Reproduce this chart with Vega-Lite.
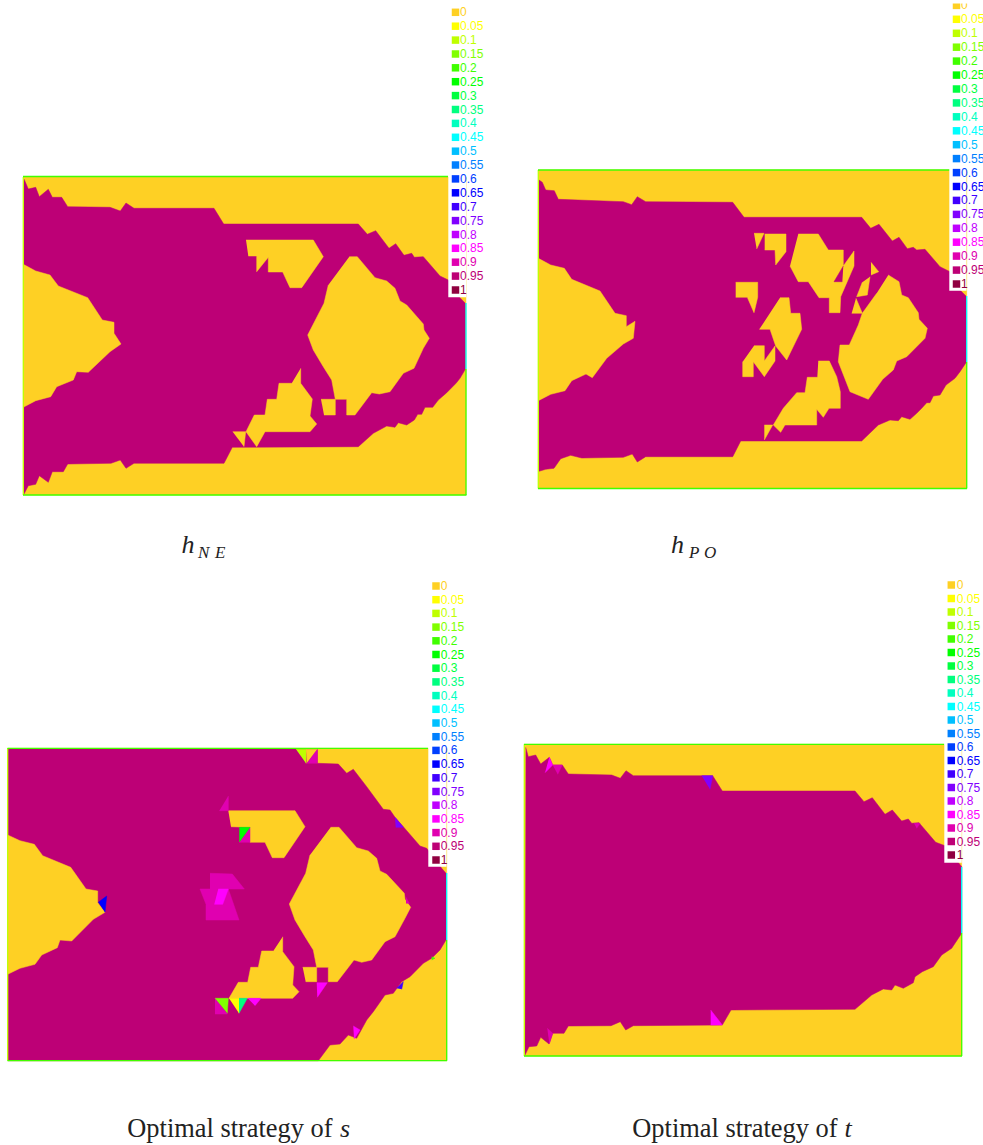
{"$schema":"https://vega.github.io/schema/vega-lite/v6.json","width":983,"height":1145,"padding":0,"autosize":"none","background":"white","view":{"stroke":null},
"datasets":{
"mesh":[
{"shape":"ne-bg","i":0,"x":23.3,"y":177,"value":0},{"shape":"ne-bg","i":1,"x":466,"y":177,"value":0},{"shape":"ne-bg","i":2,"x":466,"y":495,"value":0},{"shape":"ne-bg","i":3,"x":23.3,"y":495,"value":0},
{"shape":"ne-main","i":0,"x":24,"y":179,"value":0.95},{"shape":"ne-main","i":1,"x":28.3,"y":189,"value":0.95},{"shape":"ne-main","i":2,"x":35.7,"y":187.3,"value":0.95},{"shape":"ne-main","i":3,"x":39.3,"y":196.7,"value":0.95},{"shape":"ne-main","i":4,"x":48.3,"y":189.3,"value":0.95},{"shape":"ne-main","i":5,"x":52.3,"y":197.3,"value":0.95},{"shape":"ne-main","i":6,"x":61.7,"y":197.3,"value":0.95},{"shape":"ne-main","i":7,"x":67.7,"y":206.7,"value":0.95},{"shape":"ne-main","i":8,"x":110,"y":207.3,"value":0.95},{"shape":"ne-main","i":9,"x":120.3,"y":211,"value":0.95},{"shape":"ne-main","i":10,"x":126,"y":203,"value":0.95},{"shape":"ne-main","i":11,"x":134,"y":208.3,"value":0.95},{"shape":"ne-main","i":12,"x":214,"y":208.3,"value":0.95},{"shape":"ne-main","i":13,"x":223.7,"y":224,"value":0.95},{"shape":"ne-main","i":14,"x":358.3,"y":224,"value":0.95},{"shape":"ne-main","i":15,"x":367.3,"y":234.3,"value":0.95},{"shape":"ne-main","i":16,"x":375.7,"y":230.7,"value":0.95},{"shape":"ne-main","i":17,"x":389,"y":248.3,"value":0.95},{"shape":"ne-main","i":18,"x":395.7,"y":243.7,"value":0.95},{"shape":"ne-main","i":19,"x":404,"y":255.3,"value":0.95},{"shape":"ne-main","i":20,"x":411.7,"y":253.3,"value":0.95},{"shape":"ne-main","i":21,"x":414.3,"y":257.3,"value":0.95},{"shape":"ne-main","i":22,"x":423.3,"y":256.7,"value":0.95},{"shape":"ne-main","i":23,"x":440,"y":276,"value":0.95},{"shape":"ne-main","i":24,"x":448.3,"y":280,"value":0.95},{"shape":"ne-main","i":25,"x":460,"y":297.7,"value":0.95},{"shape":"ne-main","i":26,"x":465.3,"y":303.3,"value":0.95},{"shape":"ne-main","i":27,"x":465.3,"y":369.3,"value":0.95},{"shape":"ne-main","i":28,"x":460,"y":378.3,"value":0.95},{"shape":"ne-main","i":29,"x":456,"y":383.3,"value":0.95},{"shape":"ne-main","i":30,"x":446.7,"y":392.7,"value":0.95},{"shape":"ne-main","i":31,"x":438.3,"y":400,"value":0.95},{"shape":"ne-main","i":32,"x":432.7,"y":407.3,"value":0.95},{"shape":"ne-main","i":33,"x":425,"y":407.3,"value":0.95},{"shape":"ne-main","i":34,"x":421.7,"y":414.3,"value":0.95},{"shape":"ne-main","i":35,"x":417.7,"y":414.3,"value":0.95},{"shape":"ne-main","i":36,"x":414.3,"y":420,"value":0.95},{"shape":"ne-main","i":37,"x":406.7,"y":425,"value":0.95},{"shape":"ne-main","i":38,"x":398.3,"y":422.7,"value":0.95},{"shape":"ne-main","i":39,"x":395,"y":427.3,"value":0.95},{"shape":"ne-main","i":40,"x":386.7,"y":426,"value":0.95},{"shape":"ne-main","i":41,"x":373.3,"y":433.3,"value":0.95},{"shape":"ne-main","i":42,"x":358.3,"y":446.7,"value":0.95},{"shape":"ne-main","i":43,"x":232.3,"y":447.3,"value":0.95},{"shape":"ne-main","i":44,"x":224,"y":463.3,"value":0.95},{"shape":"ne-main","i":45,"x":134,"y":463.3,"value":0.95},{"shape":"ne-main","i":46,"x":126,"y":468.3,"value":0.95},{"shape":"ne-main","i":47,"x":120.3,"y":460,"value":0.95},{"shape":"ne-main","i":48,"x":111,"y":463.3,"value":0.95},{"shape":"ne-main","i":49,"x":67.7,"y":464,"value":0.95},{"shape":"ne-main","i":50,"x":63.3,"y":471.7,"value":0.95},{"shape":"ne-main","i":51,"x":52.3,"y":471.7,"value":0.95},{"shape":"ne-main","i":52,"x":48.3,"y":482.3,"value":0.95},{"shape":"ne-main","i":53,"x":39.3,"y":475.7,"value":0.95},{"shape":"ne-main","i":54,"x":35.7,"y":484.3,"value":0.95},{"shape":"ne-main","i":55,"x":28.3,"y":485.7,"value":0.95},{"shape":"ne-main","i":56,"x":24,"y":494,"value":0.95},
{"shape":"ne-lobe","i":0,"x":23.3,"y":264.3,"value":0},{"shape":"ne-lobe","i":1,"x":35.7,"y":271,"value":0},{"shape":"ne-lobe","i":2,"x":50,"y":275,"value":0},{"shape":"ne-lobe","i":3,"x":58.3,"y":286,"value":0},{"shape":"ne-lobe","i":4,"x":87.7,"y":297.7,"value":0},{"shape":"ne-lobe","i":5,"x":102.3,"y":320,"value":0},{"shape":"ne-lobe","i":6,"x":114,"y":322.3,"value":0},{"shape":"ne-lobe","i":7,"x":114,"y":333.3,"value":0},{"shape":"ne-lobe","i":8,"x":121,"y":344,"value":0},{"shape":"ne-lobe","i":9,"x":110,"y":351.7,"value":0},{"shape":"ne-lobe","i":10,"x":88.3,"y":372.3,"value":0},{"shape":"ne-lobe","i":11,"x":76.7,"y":371.7,"value":0},{"shape":"ne-lobe","i":12,"x":73.3,"y":380,"value":0},{"shape":"ne-lobe","i":13,"x":56.7,"y":386.7,"value":0},{"shape":"ne-lobe","i":14,"x":50.7,"y":396.7,"value":0},{"shape":"ne-lobe","i":15,"x":35.7,"y":400.7,"value":0},{"shape":"ne-lobe","i":16,"x":23.3,"y":407.3,"value":0},
{"shape":"ne-a","i":0,"x":246,"y":240,"value":0},{"shape":"ne-a","i":1,"x":313.3,"y":240,"value":0},{"shape":"ne-a","i":2,"x":323.3,"y":256.7,"value":0},{"shape":"ne-a","i":3,"x":301.7,"y":287.7,"value":0},{"shape":"ne-a","i":4,"x":290,"y":287.7,"value":0},{"shape":"ne-a","i":5,"x":282.7,"y":272,"value":0},{"shape":"ne-a","i":6,"x":268.3,"y":272,"value":0},{"shape":"ne-a","i":7,"x":268.3,"y":257.3,"value":0},{"shape":"ne-a","i":8,"x":256.7,"y":271.7,"value":0},{"shape":"ne-a","i":9,"x":256.7,"y":256,"value":0},{"shape":"ne-a","i":10,"x":248.3,"y":256,"value":0},
{"shape":"ne-b","i":0,"x":349.3,"y":256.7,"value":0},{"shape":"ne-b","i":1,"x":357.3,"y":256.7,"value":0},{"shape":"ne-b","i":2,"x":375,"y":277.7,"value":0},{"shape":"ne-b","i":3,"x":386.7,"y":281,"value":0},{"shape":"ne-b","i":4,"x":395,"y":288.3,"value":0},{"shape":"ne-b","i":5,"x":400,"y":301,"value":0},{"shape":"ne-b","i":6,"x":406.7,"y":305,"value":0},{"shape":"ne-b","i":7,"x":423.3,"y":324,"value":0},{"shape":"ne-b","i":8,"x":424,"y":330,"value":0},{"shape":"ne-b","i":9,"x":429.3,"y":338.3,"value":0},{"shape":"ne-b","i":10,"x":423.3,"y":348.3,"value":0},{"shape":"ne-b","i":11,"x":414,"y":368.3,"value":0},{"shape":"ne-b","i":12,"x":403.3,"y":373.3,"value":0},{"shape":"ne-b","i":13,"x":390,"y":391.7,"value":0},{"shape":"ne-b","i":14,"x":379.3,"y":394,"value":0},{"shape":"ne-b","i":15,"x":371.7,"y":392.7,"value":0},{"shape":"ne-b","i":16,"x":355,"y":415,"value":0},{"shape":"ne-b","i":17,"x":346.7,"y":415,"value":0},{"shape":"ne-b","i":18,"x":346.7,"y":399.3,"value":0},{"shape":"ne-b","i":19,"x":335.3,"y":399.3,"value":0},{"shape":"ne-b","i":20,"x":331.7,"y":380,"value":0},{"shape":"ne-b","i":21,"x":323.3,"y":366.7,"value":0},{"shape":"ne-b","i":22,"x":313.3,"y":350,"value":0},{"shape":"ne-b","i":23,"x":307.7,"y":335,"value":0},{"shape":"ne-b","i":24,"x":324,"y":303.3,"value":0},{"shape":"ne-b","i":25,"x":328.3,"y":285,"value":0},
{"shape":"ne-c","i":0,"x":321,"y":399.3,"value":0},{"shape":"ne-c","i":1,"x":335.3,"y":399.3,"value":0},{"shape":"ne-c","i":2,"x":335.3,"y":415,"value":0},{"shape":"ne-c","i":3,"x":324,"y":415,"value":0},
{"shape":"ne-d","i":0,"x":300.7,"y":368.3,"value":0},{"shape":"ne-d","i":1,"x":300.7,"y":383.3,"value":0},{"shape":"ne-d","i":2,"x":312.3,"y":399,"value":0},{"shape":"ne-d","i":3,"x":310,"y":416,"value":0},{"shape":"ne-d","i":4,"x":316.7,"y":424,"value":0},{"shape":"ne-d","i":5,"x":310,"y":431.7,"value":0},{"shape":"ne-d","i":6,"x":265,"y":431.7,"value":0},{"shape":"ne-d","i":7,"x":256.7,"y":446.7,"value":0},{"shape":"ne-d","i":8,"x":246,"y":431.7,"value":0},{"shape":"ne-d","i":9,"x":254.3,"y":415,"value":0},{"shape":"ne-d","i":10,"x":265,"y":415,"value":0},{"shape":"ne-d","i":11,"x":267.3,"y":399.3,"value":0},{"shape":"ne-d","i":12,"x":276.7,"y":399.3,"value":0},{"shape":"ne-d","i":13,"x":279,"y":383.3,"value":0},{"shape":"ne-d","i":14,"x":291.7,"y":383.3,"value":0},
{"shape":"ne-e","i":0,"x":232.7,"y":431.7,"value":0},{"shape":"ne-e","i":1,"x":245.7,"y":431.7,"value":0},{"shape":"ne-e","i":2,"x":244,"y":446.7,"value":0},

{"shape":"po-bg","i":0,"x":538.3,"y":170,"value":0},{"shape":"po-bg","i":1,"x":966.7,"y":170,"value":0},{"shape":"po-bg","i":2,"x":966.7,"y":488.3,"value":0},{"shape":"po-bg","i":3,"x":538.3,"y":488.3,"value":0},
{"shape":"po-main","i":0,"x":539,"y":180,"value":0.95},{"shape":"po-main","i":1,"x":542.3,"y":182.3,"value":0.95},{"shape":"po-main","i":2,"x":545.7,"y":190,"value":0.95},{"shape":"po-main","i":3,"x":554.3,"y":190.7,"value":0.95},{"shape":"po-main","i":4,"x":558.3,"y":199.3,"value":0.95},{"shape":"po-main","i":5,"x":623.3,"y":201.7,"value":0.95},{"shape":"po-main","i":6,"x":631.7,"y":204.7,"value":0.95},{"shape":"po-main","i":7,"x":637.3,"y":196.7,"value":0.95},{"shape":"po-main","i":8,"x":645.7,"y":201.7,"value":0.95},{"shape":"po-main","i":9,"x":732.7,"y":202.3,"value":0.95},{"shape":"po-main","i":10,"x":744,"y":217.3,"value":0.95},{"shape":"po-main","i":11,"x":861.7,"y":217.3,"value":0.95},{"shape":"po-main","i":12,"x":870.7,"y":228.3,"value":0.95},{"shape":"po-main","i":13,"x":879,"y":224.3,"value":0.95},{"shape":"po-main","i":14,"x":892.3,"y":241,"value":0.95},{"shape":"po-main","i":15,"x":899,"y":237.3,"value":0.95},{"shape":"po-main","i":16,"x":907.3,"y":248.7,"value":0.95},{"shape":"po-main","i":17,"x":913.3,"y":247.3,"value":0.95},{"shape":"po-main","i":18,"x":916.7,"y":250,"value":0.95},{"shape":"po-main","i":19,"x":925,"y":249.3,"value":0.95},{"shape":"po-main","i":20,"x":940,"y":266.7,"value":0.95},{"shape":"po-main","i":21,"x":950,"y":271.7,"value":0.95},{"shape":"po-main","i":22,"x":960,"y":290,"value":0.95},{"shape":"po-main","i":23,"x":966,"y":296,"value":0.95},{"shape":"po-main","i":24,"x":966,"y":362.7,"value":0.95},{"shape":"po-main","i":25,"x":960,"y":371.7,"value":0.95},{"shape":"po-main","i":26,"x":955,"y":378.3,"value":0.95},{"shape":"po-main","i":27,"x":946,"y":385,"value":0.95},{"shape":"po-main","i":28,"x":940,"y":395,"value":0.95},{"shape":"po-main","i":29,"x":933.3,"y":396,"value":0.95},{"shape":"po-main","i":30,"x":930,"y":402.7,"value":0.95},{"shape":"po-main","i":31,"x":926.7,"y":402.7,"value":0.95},{"shape":"po-main","i":32,"x":921.7,"y":408.3,"value":0.95},{"shape":"po-main","i":33,"x":916.7,"y":413.3,"value":0.95},{"shape":"po-main","i":34,"x":910,"y":419.3,"value":0.95},{"shape":"po-main","i":35,"x":901.7,"y":416.7,"value":0.95},{"shape":"po-main","i":36,"x":898.3,"y":420.7,"value":0.95},{"shape":"po-main","i":37,"x":890,"y":420,"value":0.95},{"shape":"po-main","i":38,"x":878.3,"y":425,"value":0.95},{"shape":"po-main","i":39,"x":861.7,"y":441,"value":0.95},{"shape":"po-main","i":40,"x":740.7,"y":441,"value":0.95},{"shape":"po-main","i":41,"x":732.7,"y":456.7,"value":0.95},{"shape":"po-main","i":42,"x":645.7,"y":456.7,"value":0.95},{"shape":"po-main","i":43,"x":637.3,"y":462,"value":0.95},{"shape":"po-main","i":44,"x":632.3,"y":454,"value":0.95},{"shape":"po-main","i":45,"x":623.3,"y":457.3,"value":0.95},{"shape":"po-main","i":46,"x":581.7,"y":458,"value":0.95},{"shape":"po-main","i":47,"x":570.7,"y":455.3,"value":0.95},{"shape":"po-main","i":48,"x":560.7,"y":458.7,"value":0.95},{"shape":"po-main","i":49,"x":554,"y":468.3,"value":0.95},{"shape":"po-main","i":50,"x":545.7,"y":469.3,"value":0.95},{"shape":"po-main","i":51,"x":539,"y":471.3,"value":0.95},
{"shape":"po-lobe","i":0,"x":538.3,"y":258.3,"value":0},{"shape":"po-lobe","i":1,"x":550.7,"y":265,"value":0},{"shape":"po-lobe","i":2,"x":564.3,"y":268.3,"value":0},{"shape":"po-lobe","i":3,"x":571.7,"y":279.3,"value":0},{"shape":"po-lobe","i":4,"x":600,"y":291,"value":0},{"shape":"po-lobe","i":5,"x":615,"y":313.3,"value":0},{"shape":"po-lobe","i":6,"x":626.3,"y":315.7,"value":0},{"shape":"po-lobe","i":7,"x":626.3,"y":326.7,"value":0},{"shape":"po-lobe","i":8,"x":635,"y":321.3,"value":0},{"shape":"po-lobe","i":9,"x":633.3,"y":338.3,"value":0},{"shape":"po-lobe","i":10,"x":623.3,"y":344,"value":0},{"shape":"po-lobe","i":11,"x":606.7,"y":358.3,"value":0},{"shape":"po-lobe","i":12,"x":592.3,"y":377.7,"value":0},{"shape":"po-lobe","i":13,"x":586,"y":374,"value":0},{"shape":"po-lobe","i":14,"x":571.7,"y":380.7,"value":0},{"shape":"po-lobe","i":15,"x":565,"y":390.7,"value":0},{"shape":"po-lobe","i":16,"x":550.7,"y":394.3,"value":0},{"shape":"po-lobe","i":17,"x":538.3,"y":400.7,"value":0},
{"shape":"po-h1","i":0,"x":754,"y":233.3,"value":0},{"shape":"po-h1","i":1,"x":764,"y":233.3,"value":0},{"shape":"po-h1","i":2,"x":756.7,"y":249,"value":0},
{"shape":"po-h2","i":0,"x":764.7,"y":234,"value":0},{"shape":"po-h2","i":1,"x":786,"y":234,"value":0},{"shape":"po-h2","i":2,"x":786,"y":251.7,"value":0},{"shape":"po-h2","i":3,"x":775.7,"y":265,"value":0},{"shape":"po-h2","i":4,"x":775,"y":250,"value":0},{"shape":"po-h2","i":5,"x":764.7,"y":250,"value":0},
{"shape":"po-h3","i":0,"x":798.3,"y":234,"value":0},{"shape":"po-h3","i":1,"x":818.3,"y":234,"value":0},{"shape":"po-h3","i":2,"x":828.3,"y":250,"value":0},{"shape":"po-h3","i":3,"x":843.3,"y":250,"value":0},{"shape":"po-h3","i":4,"x":843.3,"y":266,"value":0},{"shape":"po-h3","i":5,"x":854,"y":251,"value":0},{"shape":"po-h3","i":6,"x":854,"y":266,"value":0},{"shape":"po-h3","i":7,"x":840.7,"y":296.7,"value":0},{"shape":"po-h3","i":8,"x":840,"y":312.7,"value":0},{"shape":"po-h3","i":9,"x":829.3,"y":312.7,"value":0},{"shape":"po-h3","i":10,"x":829.3,"y":297.7,"value":0},{"shape":"po-h3","i":11,"x":819,"y":297.7,"value":0},{"shape":"po-h3","i":12,"x":808.3,"y":281.7,"value":0},{"shape":"po-h3","i":13,"x":798.3,"y":281.7,"value":0},{"shape":"po-h3","i":14,"x":790,"y":266,"value":0},
{"shape":"po-h3m","i":0,"x":843.3,"y":266,"value":0.95},{"shape":"po-h3m","i":1,"x":834,"y":281.7,"value":0.95},{"shape":"po-h3m","i":2,"x":842.3,"y":281.7,"value":0.95},
{"shape":"po-h4","i":0,"x":871,"y":262.3,"value":0},{"shape":"po-h4","i":1,"x":878.7,"y":271.7,"value":0},{"shape":"po-h4","i":2,"x":871,"y":275,"value":0},
{"shape":"po-h5","i":0,"x":870,"y":276.7,"value":0},{"shape":"po-h5","i":1,"x":867.3,"y":295,"value":0},{"shape":"po-h5","i":2,"x":856.7,"y":296.7,"value":0},{"shape":"po-h5","i":3,"x":862.3,"y":282.3,"value":0},
{"shape":"po-h6","i":0,"x":856,"y":298.3,"value":0},{"shape":"po-h6","i":1,"x":862.3,"y":313.3,"value":0},{"shape":"po-h6","i":2,"x":851.7,"y":313.3,"value":0},
{"shape":"po-h7","i":0,"x":888.3,"y":275,"value":0},{"shape":"po-h7","i":1,"x":899,"y":281.7,"value":0},{"shape":"po-h7","i":2,"x":901.7,"y":295,"value":0},{"shape":"po-h7","i":3,"x":908.3,"y":297.7,"value":0},{"shape":"po-h7","i":4,"x":918.3,"y":312.7,"value":0},{"shape":"po-h7","i":5,"x":919,"y":319.3,"value":0},{"shape":"po-h7","i":6,"x":927.3,"y":328.3,"value":0},{"shape":"po-h7","i":7,"x":925,"y":338.3,"value":0},{"shape":"po-h7","i":8,"x":906.7,"y":356.7,"value":0},{"shape":"po-h7","i":9,"x":896.7,"y":361,"value":0},{"shape":"po-h7","i":10,"x":893.3,"y":370,"value":0},{"shape":"po-h7","i":11,"x":882.7,"y":379.3,"value":0},{"shape":"po-h7","i":12,"x":868.3,"y":399.3,"value":0},{"shape":"po-h7","i":13,"x":850,"y":391.7,"value":0},{"shape":"po-h7","i":14,"x":838.3,"y":361.7,"value":0},{"shape":"po-h7","i":15,"x":840,"y":345,"value":0},{"shape":"po-h7","i":16,"x":849.3,"y":345,"value":0},{"shape":"po-h7","i":17,"x":858.3,"y":325,"value":0},{"shape":"po-h7","i":18,"x":862.3,"y":313.3,"value":0},{"shape":"po-h7","i":19,"x":876.7,"y":293.3,"value":0},
{"shape":"po-h8","i":0,"x":818.3,"y":361,"value":0},{"shape":"po-h8","i":1,"x":829.3,"y":361,"value":0},{"shape":"po-h8","i":2,"x":836.7,"y":376.7,"value":0},{"shape":"po-h8","i":3,"x":840.3,"y":391.7,"value":0},{"shape":"po-h8","i":4,"x":840.3,"y":408.3,"value":0},{"shape":"po-h8","i":5,"x":829,"y":408.3,"value":0},{"shape":"po-h8","i":6,"x":823.3,"y":417.3,"value":0},{"shape":"po-h8","i":7,"x":816.7,"y":409.3,"value":0},{"shape":"po-h8","i":8,"x":816.7,"y":425,"value":0},{"shape":"po-h8","i":9,"x":785,"y":425,"value":0},{"shape":"po-h8","i":10,"x":780.7,"y":432.3,"value":0},{"shape":"po-h8","i":11,"x":773.3,"y":425,"value":0},{"shape":"po-h8","i":12,"x":783.3,"y":408.3,"value":0},{"shape":"po-h8","i":13,"x":796.7,"y":392.7,"value":0},{"shape":"po-h8","i":14,"x":805,"y":392.7,"value":0},{"shape":"po-h8","i":15,"x":807.3,"y":377.3,"value":0},{"shape":"po-h8","i":16,"x":817.3,"y":377.3,"value":0},
{"shape":"po-h9","i":0,"x":764.3,"y":425,"value":0},{"shape":"po-h9","i":1,"x":772.7,"y":425,"value":0},{"shape":"po-h9","i":2,"x":764.3,"y":440,"value":0},
{"shape":"po-h10","i":0,"x":735.7,"y":282.3,"value":0},{"shape":"po-h10","i":1,"x":757.7,"y":282.3,"value":0},{"shape":"po-h10","i":2,"x":757.7,"y":297.3,"value":0},{"shape":"po-h10","i":3,"x":754,"y":312.7,"value":0},{"shape":"po-h10","i":4,"x":747.3,"y":297.3,"value":0},{"shape":"po-h10","i":5,"x":735.7,"y":297.3,"value":0},
{"shape":"po-h11","i":0,"x":780,"y":297.7,"value":0},{"shape":"po-h11","i":1,"x":789,"y":297.7,"value":0},{"shape":"po-h11","i":2,"x":790.7,"y":313.3,"value":0},{"shape":"po-h11","i":3,"x":800,"y":313.3,"value":0},{"shape":"po-h11","i":4,"x":801.7,"y":329.3,"value":0},{"shape":"po-h11","i":5,"x":786.7,"y":360,"value":0},{"shape":"po-h11","i":6,"x":775.7,"y":346,"value":0},{"shape":"po-h11","i":7,"x":770,"y":329.3,"value":0},{"shape":"po-h11","i":8,"x":759.3,"y":329.3,"value":0},
{"shape":"po-h12","i":0,"x":754,"y":345.7,"value":0},{"shape":"po-h12","i":1,"x":764.3,"y":345.7,"value":0},{"shape":"po-h12","i":2,"x":764.3,"y":361,"value":0},{"shape":"po-h12","i":3,"x":775,"y":346,"value":0},{"shape":"po-h12","i":4,"x":775,"y":361,"value":0},{"shape":"po-h12","i":5,"x":764.3,"y":376.7,"value":0},{"shape":"po-h12","i":6,"x":753.3,"y":361.7,"value":0},{"shape":"po-h12","i":7,"x":753.3,"y":376.7,"value":0},{"shape":"po-h12","i":8,"x":742.7,"y":376.7,"value":0},{"shape":"po-h12","i":9,"x":742.7,"y":361.7,"value":0},

{"shape":"s-bg","i":0,"x":7.7,"y":748.3,"value":0},{"shape":"s-bg","i":1,"x":446.7,"y":748.3,"value":0},{"shape":"s-bg","i":2,"x":446.7,"y":1060.7,"value":0},{"shape":"s-bg","i":3,"x":7.7,"y":1060.7,"value":0},
{"shape":"s-main","i":0,"x":8,"y":749,"value":0.95},{"shape":"s-main","i":1,"x":317.3,"y":749,"value":0.95},{"shape":"s-main","i":2,"x":317.3,"y":763.3,"value":0.95},{"shape":"s-main","i":3,"x":338.3,"y":764,"value":0.95},{"shape":"s-main","i":4,"x":346.7,"y":773.3,"value":0.95},{"shape":"s-main","i":5,"x":353.3,"y":769.3,"value":0.95},{"shape":"s-main","i":6,"x":366.7,"y":786.7,"value":0.95},{"shape":"s-main","i":7,"x":383.3,"y":809.3,"value":0.95},{"shape":"s-main","i":8,"x":390,"y":810,"value":0.95},{"shape":"s-main","i":9,"x":395,"y":817.3,"value":0.95},{"shape":"s-main","i":10,"x":403.3,"y":826.7,"value":0.95},{"shape":"s-main","i":11,"x":420,"y":846,"value":0.95},{"shape":"s-main","i":12,"x":426.7,"y":848.3,"value":0.95},{"shape":"s-main","i":13,"x":441.7,"y":868.3,"value":0.95},{"shape":"s-main","i":14,"x":446,"y":873.3,"value":0.95},{"shape":"s-main","i":15,"x":446,"y":940,"value":0.95},{"shape":"s-main","i":16,"x":440,"y":950,"value":0.95},{"shape":"s-main","i":17,"x":431.7,"y":958.3,"value":0.95},{"shape":"s-main","i":18,"x":423.3,"y":963.3,"value":0.95},{"shape":"s-main","i":19,"x":410,"y":976.7,"value":0.95},{"shape":"s-main","i":20,"x":401.7,"y":981.7,"value":0.95},{"shape":"s-main","i":21,"x":393.3,"y":993.3,"value":0.95},{"shape":"s-main","i":22,"x":385,"y":995,"value":0.95},{"shape":"s-main","i":23,"x":373.3,"y":1011.7,"value":0.95},{"shape":"s-main","i":24,"x":366.7,"y":1020,"value":0.95},{"shape":"s-main","i":25,"x":356.7,"y":1038.3,"value":0.95},{"shape":"s-main","i":26,"x":348.3,"y":1035,"value":0.95},{"shape":"s-main","i":27,"x":340,"y":1044,"value":0.95},{"shape":"s-main","i":28,"x":330,"y":1045,"value":0.95},{"shape":"s-main","i":29,"x":318.3,"y":1060.7,"value":0.95},{"shape":"s-main","i":30,"x":8,"y":1060.7,"value":0.95},
{"shape":"s-lobe","i":0,"x":7.7,"y":835,"value":0},{"shape":"s-lobe","i":1,"x":20,"y":840.7,"value":0},{"shape":"s-lobe","i":2,"x":34.3,"y":844.3,"value":0},{"shape":"s-lobe","i":3,"x":42.7,"y":855.7,"value":0},{"shape":"s-lobe","i":4,"x":70.7,"y":867.3,"value":0},{"shape":"s-lobe","i":5,"x":86,"y":889,"value":0},{"shape":"s-lobe","i":6,"x":97.7,"y":891,"value":0},{"shape":"s-lobe","i":7,"x":97.7,"y":902.7,"value":0},{"shape":"s-lobe","i":8,"x":105,"y":912.3,"value":0},{"shape":"s-lobe","i":9,"x":93.3,"y":919.3,"value":0},{"shape":"s-lobe","i":10,"x":71.7,"y":941,"value":0},{"shape":"s-lobe","i":11,"x":60,"y":940,"value":0},{"shape":"s-lobe","i":12,"x":57.3,"y":947.7,"value":0},{"shape":"s-lobe","i":13,"x":41.7,"y":955,"value":0},{"shape":"s-lobe","i":14,"x":35,"y":964.3,"value":0},{"shape":"s-lobe","i":15,"x":20,"y":968.3,"value":0},{"shape":"s-lobe","i":16,"x":7.7,"y":974.3,"value":0},
{"shape":"s-t1","i":0,"x":98.3,"y":902.3,"value":0.65},{"shape":"s-t1","i":1,"x":106.7,"y":896,"value":0.65},{"shape":"s-t1","i":2,"x":105,"y":912.3,"value":0.65},
{"shape":"s-a","i":0,"x":228.3,"y":810.7,"value":0},{"shape":"s-a","i":1,"x":295,"y":810.7,"value":0},{"shape":"s-a","i":2,"x":305,"y":826.7,"value":0},{"shape":"s-a","i":3,"x":284,"y":857.7,"value":0},{"shape":"s-a","i":4,"x":272.3,"y":857.7,"value":0},{"shape":"s-a","i":5,"x":265,"y":842.3,"value":0},{"shape":"s-a","i":6,"x":250,"y":842.3,"value":0},{"shape":"s-a","i":7,"x":250,"y":827.3,"value":0},{"shape":"s-a","i":8,"x":231,"y":826.7,"value":0},
{"shape":"s-t2","i":0,"x":250,"y":827.3,"value":0.9},{"shape":"s-t2","i":1,"x":250,"y":842.3,"value":0.9},{"shape":"s-t2","i":2,"x":239.3,"y":842.3,"value":0.9},
{"shape":"s-t3","i":0,"x":239.3,"y":827.3,"value":0.25},{"shape":"s-t3","i":1,"x":250,"y":827.3,"value":0.25},{"shape":"s-t3","i":2,"x":239.3,"y":842,"value":0.25},
{"shape":"s-t4","i":0,"x":228.3,"y":796,"value":0.9},{"shape":"s-t4","i":1,"x":228.3,"y":810.7,"value":0.9},{"shape":"s-t4","i":2,"x":219.3,"y":810.7,"value":0.9},
{"shape":"s-blob","i":0,"x":210,"y":873.3,"value":0.9},{"shape":"s-blob","i":1,"x":232.3,"y":874,"value":0.9},{"shape":"s-blob","i":2,"x":244.3,"y":889,"value":0.9},{"shape":"s-blob","i":3,"x":228.3,"y":889,"value":0.9},{"shape":"s-blob","i":4,"x":239,"y":920,"value":0.9},{"shape":"s-blob","i":5,"x":206,"y":920,"value":0.9},{"shape":"s-blob","i":6,"x":206,"y":904.3,"value":0.9},{"shape":"s-blob","i":7,"x":200,"y":889,"value":0.9},{"shape":"s-blob","i":8,"x":210,"y":889,"value":0.9},
{"shape":"s-blob2","i":0,"x":218.3,"y":889,"value":0.85},{"shape":"s-blob2","i":1,"x":228.3,"y":889,"value":0.85},{"shape":"s-blob2","i":2,"x":222.7,"y":904.3,"value":0.85},{"shape":"s-blob2","i":3,"x":214.3,"y":904.3,"value":0.85},
{"shape":"s-b","i":0,"x":330.7,"y":827.3,"value":0},{"shape":"s-b","i":1,"x":339,"y":827.3,"value":0},{"shape":"s-b","i":2,"x":356.7,"y":847.7,"value":0},{"shape":"s-b","i":3,"x":368.3,"y":851,"value":0},{"shape":"s-b","i":4,"x":376.7,"y":858.3,"value":0},{"shape":"s-b","i":5,"x":380,"y":871,"value":0},{"shape":"s-b","i":6,"x":386.7,"y":874.3,"value":0},{"shape":"s-b","i":7,"x":404.3,"y":893.3,"value":0},{"shape":"s-b","i":8,"x":405,"y":899.3,"value":0},{"shape":"s-b","i":9,"x":410.7,"y":907.3,"value":0},{"shape":"s-b","i":10,"x":405,"y":918.3,"value":0},{"shape":"s-b","i":11,"x":395,"y":936.7,"value":0},{"shape":"s-b","i":12,"x":385,"y":941.7,"value":0},{"shape":"s-b","i":13,"x":371.7,"y":960,"value":0},{"shape":"s-b","i":14,"x":361.7,"y":962.3,"value":0},{"shape":"s-b","i":15,"x":354,"y":960,"value":0},{"shape":"s-b","i":16,"x":337.3,"y":981.7,"value":0},{"shape":"s-b","i":17,"x":328.3,"y":981.7,"value":0},{"shape":"s-b","i":18,"x":328.3,"y":967.3,"value":0},{"shape":"s-b","i":19,"x":316.7,"y":967.3,"value":0},{"shape":"s-b","i":20,"x":313.3,"y":950,"value":0},{"shape":"s-b","i":21,"x":305,"y":936.7,"value":0},{"shape":"s-b","i":22,"x":295,"y":920,"value":0},{"shape":"s-b","i":23,"x":289.3,"y":904,"value":0},{"shape":"s-b","i":24,"x":305.7,"y":873.3,"value":0},{"shape":"s-b","i":25,"x":310,"y":855,"value":0},
{"shape":"s-c","i":0,"x":302.7,"y":967.3,"value":0},{"shape":"s-c","i":1,"x":316.7,"y":967.3,"value":0},{"shape":"s-c","i":2,"x":316.7,"y":981.7,"value":0},{"shape":"s-c","i":3,"x":305.7,"y":981.7,"value":0},
{"shape":"s-t5","i":0,"x":316.7,"y":982.7,"value":0.85},{"shape":"s-t5","i":1,"x":327.3,"y":982.7,"value":0.85},{"shape":"s-t5","i":2,"x":317.3,"y":997.3,"value":0.85},
{"shape":"s-d","i":0,"x":282.7,"y":936.7,"value":0},{"shape":"s-d","i":1,"x":282.7,"y":951.7,"value":0},{"shape":"s-d","i":2,"x":294,"y":966.7,"value":0},{"shape":"s-d","i":3,"x":292.7,"y":985,"value":0},{"shape":"s-d","i":4,"x":299,"y":991.7,"value":0},{"shape":"s-d","i":5,"x":292.7,"y":998.3,"value":0},{"shape":"s-d","i":6,"x":229,"y":998.3,"value":0},{"shape":"s-d","i":7,"x":238.3,"y":982.3,"value":0},{"shape":"s-d","i":8,"x":247.7,"y":982.3,"value":0},{"shape":"s-d","i":9,"x":250.7,"y":967.3,"value":0},{"shape":"s-d","i":10,"x":258.3,"y":967.3,"value":0},{"shape":"s-d","i":11,"x":261.7,"y":951,"value":0},{"shape":"s-d","i":12,"x":273.3,"y":951,"value":0},
{"shape":"s-t6","i":0,"x":229,"y":998.3,"value":0.05},{"shape":"s-t6","i":1,"x":239,"y":998.3,"value":0.05},{"shape":"s-t6","i":2,"x":239,"y":1013.3,"value":0.05},
{"shape":"s-t7","i":0,"x":239,"y":998.3,"value":0.35},{"shape":"s-t7","i":1,"x":247.3,"y":998.3,"value":0.35},{"shape":"s-t7","i":2,"x":239,"y":1013.3,"value":0.35},
{"shape":"s-t8","i":0,"x":247.7,"y":998.3,"value":0.85},{"shape":"s-t8","i":1,"x":261,"y":998.3,"value":0.85},{"shape":"s-t8","i":2,"x":255,"y":1005.7,"value":0.85},
{"shape":"s-t9","i":0,"x":215,"y":998.3,"value":0.9},{"shape":"s-t9","i":1,"x":227.3,"y":1014,"value":0.9},{"shape":"s-t9","i":2,"x":215,"y":1014,"value":0.9},
{"shape":"s-t10","i":0,"x":215,"y":998.3,"value":0.15},{"shape":"s-t10","i":1,"x":228.3,"y":998.3,"value":0.15},{"shape":"s-t10","i":2,"x":227.3,"y":1013.3,"value":0.15},
{"shape":"s-t11","i":0,"x":296,"y":749.3,"value":0.1},{"shape":"s-t11","i":1,"x":306,"y":749.3,"value":0.1},{"shape":"s-t11","i":2,"x":306,"y":763.3,"value":0.1},
{"shape":"s-t12","i":0,"x":306,"y":749.3,"value":0},{"shape":"s-t12","i":1,"x":317.3,"y":749.3,"value":0},{"shape":"s-t12","i":2,"x":306.7,"y":763.3,"value":0},
{"shape":"s-t13","i":0,"x":317.3,"y":749.3,"value":0.9},{"shape":"s-t13","i":1,"x":317.3,"y":763.3,"value":0.9},{"shape":"s-t13","i":2,"x":306.7,"y":763.3,"value":0.9},
{"shape":"s-t14","i":0,"x":395,"y":817.3,"value":0.75},{"shape":"s-t14","i":1,"x":403.3,"y":827.3,"value":0.75},{"shape":"s-t14","i":2,"x":395.7,"y":827.3,"value":0.75},
{"shape":"s-t15","i":0,"x":406,"y":897.3,"value":0.9},{"shape":"s-t15","i":1,"x":409.3,"y":903.3,"value":0.9},{"shape":"s-t15","i":2,"x":406,"y":903.3,"value":0.9},
{"shape":"s-t16","i":0,"x":396.7,"y":988.3,"value":0.7},{"shape":"s-t16","i":1,"x":403.3,"y":981.7,"value":0.7},{"shape":"s-t16","i":2,"x":401.7,"y":989.3,"value":0.7},
{"shape":"s-t17","i":0,"x":353.3,"y":1026,"value":0.85},{"shape":"s-t17","i":1,"x":360,"y":1030,"value":0.85},{"shape":"s-t17","i":2,"x":354,"y":1039,"value":0.85},
{"shape":"s-t18","i":0,"x":431.7,"y":956.7,"value":0.2},{"shape":"s-t18","i":1,"x":435,"y":958.3,"value":0.2},{"shape":"s-t18","i":2,"x":431.7,"y":960,"value":0.2},

{"shape":"t-bg","i":0,"x":524.3,"y":744.3,"value":0},{"shape":"t-bg","i":1,"x":961.7,"y":744.3,"value":0},{"shape":"t-bg","i":2,"x":961.7,"y":1056,"value":0},{"shape":"t-bg","i":3,"x":524.3,"y":1056,"value":0},
{"shape":"t-main","i":0,"x":525.7,"y":747.3,"value":0.95},{"shape":"t-main","i":1,"x":528.3,"y":756.7,"value":0.95},{"shape":"t-main","i":2,"x":535.7,"y":755,"value":0.95},{"shape":"t-main","i":3,"x":540.7,"y":764,"value":0.95},{"shape":"t-main","i":4,"x":549.3,"y":757.3,"value":0.95},{"shape":"t-main","i":5,"x":552.7,"y":765,"value":0.95},{"shape":"t-main","i":6,"x":562.3,"y":765,"value":0.95},{"shape":"t-main","i":7,"x":568.3,"y":774,"value":0.95},{"shape":"t-main","i":8,"x":611.7,"y":775,"value":0.95},{"shape":"t-main","i":9,"x":620.3,"y":778.3,"value":0.95},{"shape":"t-main","i":10,"x":626,"y":770.7,"value":0.95},{"shape":"t-main","i":11,"x":633.3,"y":775.7,"value":0.95},{"shape":"t-main","i":12,"x":712.7,"y":775.7,"value":0.95},{"shape":"t-main","i":13,"x":722.3,"y":791,"value":0.95},{"shape":"t-main","i":14,"x":855,"y":791,"value":0.95},{"shape":"t-main","i":15,"x":864,"y":801.7,"value":0.95},{"shape":"t-main","i":16,"x":872.3,"y":797.7,"value":0.95},{"shape":"t-main","i":17,"x":885,"y":814.3,"value":0.95},{"shape":"t-main","i":18,"x":892.3,"y":810,"value":0.95},{"shape":"t-main","i":19,"x":901.7,"y":821,"value":0.95},{"shape":"t-main","i":20,"x":908.3,"y":819,"value":0.95},{"shape":"t-main","i":21,"x":911.7,"y":823.3,"value":0.95},{"shape":"t-main","i":22,"x":919,"y":822.7,"value":0.95},{"shape":"t-main","i":23,"x":935.7,"y":842.3,"value":0.95},{"shape":"t-main","i":24,"x":945,"y":845.7,"value":0.95},{"shape":"t-main","i":25,"x":961.7,"y":866.7,"value":0.95},{"shape":"t-main","i":26,"x":961.7,"y":933.3,"value":0.95},{"shape":"t-main","i":27,"x":951.7,"y":948.3,"value":0.95},{"shape":"t-main","i":28,"x":941.7,"y":955,"value":0.95},{"shape":"t-main","i":29,"x":933.3,"y":966.7,"value":0.95},{"shape":"t-main","i":30,"x":922.3,"y":971.7,"value":0.95},{"shape":"t-main","i":31,"x":915,"y":976.7,"value":0.95},{"shape":"t-main","i":32,"x":913.3,"y":982.7,"value":0.95},{"shape":"t-main","i":33,"x":903.3,"y":988.3,"value":0.95},{"shape":"t-main","i":34,"x":895,"y":985,"value":0.95},{"shape":"t-main","i":35,"x":891.7,"y":990,"value":0.95},{"shape":"t-main","i":36,"x":883.3,"y":989,"value":0.95},{"shape":"t-main","i":37,"x":871.7,"y":995,"value":0.95},{"shape":"t-main","i":38,"x":855,"y":1009.3,"value":0.95},{"shape":"t-main","i":39,"x":731,"y":1010,"value":0.95},{"shape":"t-main","i":40,"x":722.3,"y":1025,"value":0.95},{"shape":"t-main","i":41,"x":633.3,"y":1025.7,"value":0.95},{"shape":"t-main","i":42,"x":625.7,"y":1030,"value":0.95},{"shape":"t-main","i":43,"x":620.3,"y":1021.7,"value":0.95},{"shape":"t-main","i":44,"x":611,"y":1025.7,"value":0.95},{"shape":"t-main","i":45,"x":568.3,"y":1026,"value":0.95},{"shape":"t-main","i":46,"x":564,"y":1033.3,"value":0.95},{"shape":"t-main","i":47,"x":552.7,"y":1033.3,"value":0.95},{"shape":"t-main","i":48,"x":549,"y":1044,"value":0.95},{"shape":"t-main","i":49,"x":540.7,"y":1037.3,"value":0.95},{"shape":"t-main","i":50,"x":536.7,"y":1046,"value":0.95},{"shape":"t-main","i":51,"x":529,"y":1046.7,"value":0.95},{"shape":"t-main","i":52,"x":525,"y":1055,"value":0.95},
{"shape":"t-t1","i":0,"x":549.3,"y":757.3,"value":0.85},{"shape":"t-t1","i":1,"x":552.7,"y":765,"value":0.85},{"shape":"t-t1","i":2,"x":545,"y":772.7,"value":0.85},
{"shape":"t-t2","i":0,"x":552.7,"y":765,"value":0.9},{"shape":"t-t2","i":1,"x":562.3,"y":765,"value":0.9},{"shape":"t-t2","i":2,"x":557.7,"y":774.3,"value":0.9},
{"shape":"t-t3","i":0,"x":701.7,"y":775.7,"value":0.75},{"shape":"t-t3","i":1,"x":712.7,"y":775.7,"value":0.75},{"shape":"t-t3","i":2,"x":710,"y":789.3,"value":0.75},
{"shape":"t-t4","i":0,"x":710.7,"y":1010,"value":0.85},{"shape":"t-t4","i":1,"x":722.3,"y":1025,"value":0.85},{"shape":"t-t4","i":2,"x":710.7,"y":1025,"value":0.85},
{"shape":"t-t5","i":0,"x":547.3,"y":1028.3,"value":0.9},{"shape":"t-t5","i":1,"x":552.7,"y":1033.3,"value":0.9},{"shape":"t-t5","i":2,"x":549.3,"y":1044,"value":0.9},
{"shape":"t-t6","i":0,"x":914,"y":823.3,"value":0.9},{"shape":"t-t6","i":1,"x":920,"y":823.3,"value":0.9},{"shape":"t-t6","i":2,"x":916.7,"y":828.3,"value":0.9}
],
"edges":[
{"x":23.3,"x2":23.3,"y":177,"y2":495,"value":0.1},{"x":23,"x2":448,"y":176.5,"y2":176.5,"value":0.2},{"x":23,"x2":466.5,"y":495,"y2":495,"value":0.2},{"x":466,"x2":466,"y":303,"y2":369,"value":0.45},{"x":466,"x2":466,"y":369,"y2":495,"value":0.2},
{"x":538.3,"x2":538.3,"y":170,"y2":488.5,"value":0.1},{"x":538,"x2":950,"y":170,"y2":170,"value":0.2},{"x":538,"x2":967,"y":488.5,"y2":488.5,"value":0.2},{"x":966.7,"x2":966.7,"y":296,"y2":362,"value":0.45},{"x":966.7,"x2":966.7,"y":362,"y2":488.5,"value":0.2},
{"x":7.7,"x2":7.7,"y":748,"y2":1060.7,"value":0.1},{"x":7.5,"x2":428,"y":748.3,"y2":748.3,"value":0.2},{"x":7.5,"x2":447,"y":1060.7,"y2":1060.7,"value":0.2},{"x":446.7,"x2":446.7,"y":873,"y2":940,"value":0.45},{"x":446.7,"x2":446.7,"y":940,"y2":1060.7,"value":0.2},
{"x":524.3,"x2":524.3,"y":744.3,"y2":1056,"value":0.1},{"x":524,"x2":944,"y":744.3,"y2":744.3,"value":0.2},{"x":524,"x2":962,"y":1056,"y2":1056,"value":0.2},{"x":961.7,"x2":961.7,"y":867,"y2":933,"value":0.45},{"x":961.7,"x2":961.7,"y":933,"y2":1056,"value":0.2}
],
"boxes":[
{"x":448.3,"x2":466,"y":165,"y2":297.3},{"x":949.3,"x2":966.5,"y":160,"y2":290.7},{"x":428.3,"x2":446.5,"y":740,"y2":866.7},{"x":944.3,"x2":961.7,"y":735,"y2":862.7}
],
"legend":[
{"panel":"NE","value":0,"x":455.5,"y":12.3,"tx":460},{"panel":"NE","value":0.05,"x":455.5,"y":26.2,"tx":460},{"panel":"NE","value":0.1,"x":455.5,"y":40.1,"tx":460},{"panel":"NE","value":0.15,"x":455.5,"y":54,"tx":460},{"panel":"NE","value":0.2,"x":455.5,"y":67.8,"tx":460},{"panel":"NE","value":0.25,"x":455.5,"y":81.7,"tx":460},{"panel":"NE","value":0.3,"x":455.5,"y":95.6,"tx":460},{"panel":"NE","value":0.35,"x":455.5,"y":109.5,"tx":460},{"panel":"NE","value":0.4,"x":455.5,"y":123.4,"tx":460},{"panel":"NE","value":0.45,"x":455.5,"y":137.3,"tx":460},{"panel":"NE","value":0.5,"x":455.5,"y":151.2,"tx":460},{"panel":"NE","value":0.55,"x":455.5,"y":165,"tx":460},{"panel":"NE","value":0.6,"x":455.5,"y":178.9,"tx":460},{"panel":"NE","value":0.65,"x":455.5,"y":192.8,"tx":460},{"panel":"NE","value":0.7,"x":455.5,"y":206.7,"tx":460},{"panel":"NE","value":0.75,"x":455.5,"y":220.6,"tx":460},{"panel":"NE","value":0.8,"x":455.5,"y":234.5,"tx":460},{"panel":"NE","value":0.85,"x":455.5,"y":248.3,"tx":460},{"panel":"NE","value":0.9,"x":455.5,"y":262.2,"tx":460},{"panel":"NE","value":0.95,"x":455.5,"y":276.1,"tx":460},{"panel":"NE","value":1,"x":455.5,"y":290,"tx":460},
{"panel":"PO","value":0,"x":956.5,"y":5.4,"tx":961},{"panel":"PO","value":0.05,"x":956.5,"y":19.3,"tx":961},{"panel":"PO","value":0.1,"x":956.5,"y":33.3,"tx":961},{"panel":"PO","value":0.15,"x":956.5,"y":47.2,"tx":961},{"panel":"PO","value":0.2,"x":956.5,"y":61.1,"tx":961},{"panel":"PO","value":0.25,"x":956.5,"y":75.1,"tx":961},{"panel":"PO","value":0.3,"x":956.5,"y":89,"tx":961},{"panel":"PO","value":0.35,"x":956.5,"y":102.9,"tx":961},{"panel":"PO","value":0.4,"x":956.5,"y":116.8,"tx":961},{"panel":"PO","value":0.45,"x":956.5,"y":130.8,"tx":961},{"panel":"PO","value":0.5,"x":956.5,"y":144.7,"tx":961},{"panel":"PO","value":0.55,"x":956.5,"y":158.6,"tx":961},{"panel":"PO","value":0.6,"x":956.5,"y":172.6,"tx":961},{"panel":"PO","value":0.65,"x":956.5,"y":186.5,"tx":961},{"panel":"PO","value":0.7,"x":956.5,"y":200.4,"tx":961},{"panel":"PO","value":0.75,"x":956.5,"y":214.4,"tx":961},{"panel":"PO","value":0.8,"x":956.5,"y":228.3,"tx":961},{"panel":"PO","value":0.85,"x":956.5,"y":242.2,"tx":961},{"panel":"PO","value":0.9,"x":956.5,"y":256.1,"tx":961},{"panel":"PO","value":0.95,"x":956.5,"y":270.1,"tx":961},{"panel":"PO","value":1,"x":956.5,"y":284,"tx":961},
{"panel":"s","value":0,"x":436,"y":586,"tx":440.7},{"panel":"s","value":0.05,"x":436,"y":599.7,"tx":440.7},{"panel":"s","value":0.1,"x":436,"y":613.4,"tx":440.7},{"panel":"s","value":0.15,"x":436,"y":627.1,"tx":440.7},{"panel":"s","value":0.2,"x":436,"y":640.8,"tx":440.7},{"panel":"s","value":0.25,"x":436,"y":654.5,"tx":440.7},{"panel":"s","value":0.3,"x":436,"y":668.2,"tx":440.7},{"panel":"s","value":0.35,"x":436,"y":681.9,"tx":440.7},{"panel":"s","value":0.4,"x":436,"y":695.6,"tx":440.7},{"panel":"s","value":0.45,"x":436,"y":709.3,"tx":440.7},{"panel":"s","value":0.5,"x":436,"y":723,"tx":440.7},{"panel":"s","value":0.55,"x":436,"y":736.7,"tx":440.7},{"panel":"s","value":0.6,"x":436,"y":750.4,"tx":440.7},{"panel":"s","value":0.65,"x":436,"y":764.1,"tx":440.7},{"panel":"s","value":0.7,"x":436,"y":777.8,"tx":440.7},{"panel":"s","value":0.75,"x":436,"y":791.5,"tx":440.7},{"panel":"s","value":0.8,"x":436,"y":805.2,"tx":440.7},{"panel":"s","value":0.85,"x":436,"y":818.9,"tx":440.7},{"panel":"s","value":0.9,"x":436,"y":832.6,"tx":440.7},{"panel":"s","value":0.95,"x":436,"y":846.3,"tx":440.7},{"panel":"s","value":1,"x":436,"y":860,"tx":440.7},
{"panel":"t","value":0,"x":951.3,"y":585,"tx":956.7},{"panel":"t","value":0.05,"x":951.3,"y":598.5,"tx":956.7},{"panel":"t","value":0.1,"x":951.3,"y":612,"tx":956.7},{"panel":"t","value":0.15,"x":951.3,"y":625.5,"tx":956.7},{"panel":"t","value":0.2,"x":951.3,"y":639,"tx":956.7},{"panel":"t","value":0.25,"x":951.3,"y":652.5,"tx":956.7},{"panel":"t","value":0.3,"x":951.3,"y":666,"tx":956.7},{"panel":"t","value":0.35,"x":951.3,"y":679.5,"tx":956.7},{"panel":"t","value":0.4,"x":951.3,"y":693,"tx":956.7},{"panel":"t","value":0.45,"x":951.3,"y":706.5,"tx":956.7},{"panel":"t","value":0.5,"x":951.3,"y":720,"tx":956.7},{"panel":"t","value":0.55,"x":951.3,"y":733.5,"tx":956.7},{"panel":"t","value":0.6,"x":951.3,"y":747,"tx":956.7},{"panel":"t","value":0.65,"x":951.3,"y":760.5,"tx":956.7},{"panel":"t","value":0.7,"x":951.3,"y":774,"tx":956.7},{"panel":"t","value":0.75,"x":951.3,"y":787.5,"tx":956.7},{"panel":"t","value":0.8,"x":951.3,"y":801,"tx":956.7},{"panel":"t","value":0.85,"x":951.3,"y":814.5,"tx":956.7},{"panel":"t","value":0.9,"x":951.3,"y":828,"tx":956.7},{"panel":"t","value":0.95,"x":951.3,"y":841.5,"tx":956.7},{"panel":"t","value":1,"x":951.3,"y":855,"tx":956.7}
]
},
"encoding":{"x":{"field":"x","type":"quantitative","scale":{"domain":[0,983],"nice":false,"zero":false},"axis":null},"y":{"field":"y","type":"quantitative","scale":{"domain":[1145,0],"nice":false,"zero":false},"axis":null}},
"layer":[
{"data":{"name":"mesh"},"mark":{"type":"line","strokeWidth":0.5,"interpolate":"linear"},"encoding":{"order":{"field":"i","type":"quantitative"},"detail":{"field":"shape","type":"nominal"},
"fill":{"field":"value","type":"nominal","legend":null,"sort":null,"scale":{"domain":[0,0.05,0.1,0.15,0.2,0.25,0.3,0.35,0.4,0.45,0.5,0.55,0.6,0.65,0.7,0.75,0.8,0.85,0.9,0.95,1],"range":["#fed024","#ffff00","#bfff00","#80ff00","#40ff00","#00ff00","#00ff40","#00ff80","#00ffbf","#00ffff","#00bfff","#0080ff","#0040ff","#0000ff","#4000ff","#8000ff","#bf00ff","#ff00ff","#e000b0","#bd0076","#900040"]}},
"stroke":{"field":"value","type":"nominal","legend":null,"sort":null,"scale":{"domain":[0,0.05,0.1,0.15,0.2,0.25,0.3,0.35,0.4,0.45,0.5,0.55,0.6,0.65,0.7,0.75,0.8,0.85,0.9,0.95,1],"range":["#fed024","#ffff00","#bfff00","#80ff00","#40ff00","#00ff00","#00ff40","#00ff80","#00ffbf","#00ffff","#00bfff","#0080ff","#0040ff","#0000ff","#4000ff","#8000ff","#bf00ff","#ff00ff","#e000b0","#bd0076","#900040"]}}}},
{"data":{"name":"edges"},"mark":{"type":"rule","strokeWidth":1.3},"encoding":{"x2":{"field":"x2"},"y2":{"field":"y2"},"stroke":{"field":"value","type":"nominal","legend":null}}},
{"data":{"name":"boxes"},"mark":{"type":"rect","fill":"white"},"encoding":{"x2":{"field":"x2"},"y2":{"field":"y2"}}},
{"data":{"name":"legend"},"mark":{"type":"square","size":56,"opacity":1},"encoding":{"fill":{"field":"value","type":"nominal","legend":null}}},
{"data":{"name":"legend"},"mark":{"type":"text","align":"left","baseline":"middle","font":"Liberation Sans","fontSize":12},"encoding":{"x":{"field":"tx","type":"quantitative"},"text":{"field":"value","type":"nominal"},"fill":{"field":"value","type":"nominal","legend":null}}},
{"data":{"values":[{"x":950,"x2":983,"y":0,"y2":3.5}]},"mark":{"type":"rect","fill":"white"},"encoding":{"x2":{"field":"x2"},"y2":{"field":"y2"}}},
{"data":{"values":[{"x":181.5,"y":553,"label":"h"},{"x":671,"y":553,"label":"h"},{"x":340,"y":1136.7,"label":"s"},{"x":844.5,"y":1136.7,"label":"t"}]},"mark":{"type":"text","align":"left","baseline":"alphabetic","font":"Liberation Serif","fontStyle":"italic","fontSize":26,"fill":"#222"},"encoding":{"text":{"field":"label"}}},
{"data":{"values":[{"x":198,"y":557.5,"label":"N"},{"x":215,"y":557.5,"label":"E"},{"x":689,"y":557.5,"label":"P"},{"x":704,"y":557.5,"label":"O"}]},"mark":{"type":"text","align":"left","baseline":"alphabetic","font":"Liberation Serif","fontStyle":"italic","fontSize":17,"fill":"#222"},"encoding":{"text":{"field":"label"}}},
{"data":{"values":[{"x":127.3,"y":1136.7,"label":"Optimal strategy of"},{"x":632.3,"y":1136.7,"label":"Optimal strategy of"}]},"mark":{"type":"text","align":"left","baseline":"alphabetic","font":"Liberation Serif","fontSize":26.4,"fill":"#222"},"encoding":{"text":{"field":"label"}}}
]}
